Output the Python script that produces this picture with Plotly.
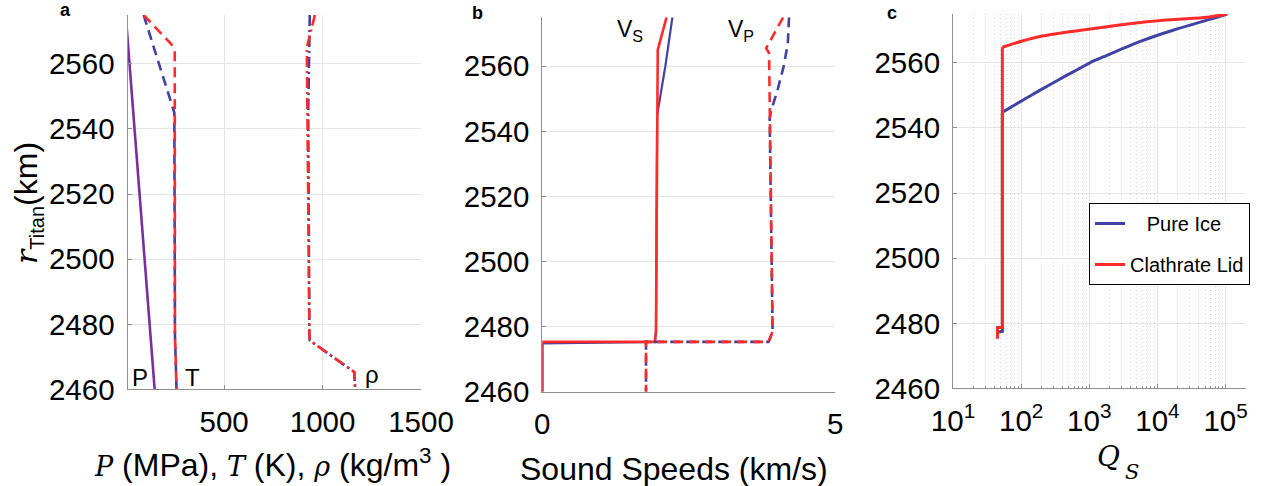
import plotly.graph_objects as go

BLUE = "#4141a6"
RED = "#ff2b2b"
PURPLE = "#7a2fa0"
AX = "#8f8f8f"
GRID = "#e6e6e6"
SANS = "Liberation Sans"
SERIF = "DejaVu Serif"

# ---------------- Panel a: P, T, rho vs radius ----------------
r_P = [2575, 2460]
P_val = [0, 147]
r_T_ice = [2575, 2545, 2477, 2460]
T_ice = [91, 247, 250, 258]
r_T_clath = [2575, 2566, 2564, 2477, 2460]
T_clath = [91, 232, 249, 250, 258]
r_rho_ice = [2575, 2545, 2477, 2475, 2465.3, 2460]
rho_ice = [935, 927, 933, 935, 1161, 1166]
r_rho_clath = [2575, 2565, 2477, 2475, 2465.3, 2460]
rho_clath = [961, 920, 933, 935, 1161, 1166]

# ---------------- Panel b: sound speeds ----------------
r_vs_ice = [2575, 2560, 2545, 2478.4, 2475.3, 2474.8, 2460]
vs_ice = [2.22, 2.10, 1.96, 1.94, 1.92, 0, 0]
r_vs_clath = [2575, 2565, 2478.4, 2475.3, 2475.3, 2460]
vs_clath = [2.12, 1.97, 1.94, 1.92, 0, 0]
r_vp_ice = [2575, 2567, 2560, 2553, 2546, 2544, 2478.4, 2475.3, 2475.3, 2460]
vp_ice = [4.21, 4.19, 4.12, 4.02, 3.90, 3.88, 3.93, 3.86, 1.77, 1.77]
r_vp_clath = [2575, 2565.5, 2564, 2478.4, 2475.3, 2475.3, 2460]
vp_clath = [4.11, 3.82, 3.87, 3.93, 3.86, 1.77, 1.77]

# ---------------- Panel c: Q_S ----------------
# attenuation curve in the conductive lid (top -> base of lid)
r_q_ice_lid = [2575, 2573.1, 2570.1, 2566.6, 2562.3, 2560.0, 2557.3, 2554.5, 2551.6,
               2548.6, 2544.8]
q_ice_lid = [105900, 53700, 17400, 5620, 1820, 1020, 589, 335, 190, 107, 53]
# convective part below the lid
r_q_ice_conv = [2544.8, 2477.5, 2477.3, 2475.3]
q_ice_conv = [53, 53, 45, 45]
r_q_clath_lid = [2575, 2574.0, 2573.3, 2572.4, 2571.1, 2569.7, 2568.1, 2566.8, 2564.8]
q_clath_lid = [105900, 53700, 17400, 5620, 1820, 589, 190, 107, 53]
r_q_clath_conv = [2564.8, 2478.7, 2478.7, 2475.3]
q_clath_conv = [53, 53, 45, 45]

y_ticks = [2460, 2480, 2500, 2520, 2540, 2560]
q_ticks = [10, 100, 1000, 10000, 100000]
q_ticktext = ["10<sup>1</sup>", "10<sup>2</sup>", "10<sup>3</sup>", "10<sup>4</sup>", "10<sup>5</sup>"]
q_minor = [m * 10 ** e for e in range(1, 5) for m in range(2, 10)] + [200000]

fig = go.Figure()

def line(x, y, color, dash, xa, ya, name=None, show=False, width=2.6, group=None,
         shape="linear"):
    ln = dict(color=color, dash=dash, width=width, shape=shape)
    if shape == "spline":
        ln["smoothing"] = 0.8
    fig.add_trace(go.Scatter(x=x, y=y, mode="lines", xaxis=xa, yaxis=ya, line=ln,
                             name=name, showlegend=show, legendgroup=group,
                             hoverinfo="skip"))

DASH = "10px,6px"
DASHDOT = "11px,4px,2px,4px"

# panel a
line(P_val, r_P, PURPLE, "solid", "x", "y")
line(T_ice, r_T_ice, BLUE, DASH, "x", "y")
line(T_clath, r_T_clath, RED, DASH, "x", "y")
line(rho_ice, r_rho_ice, BLUE, DASHDOT, "x", "y")
line(rho_clath, r_rho_clath, RED, DASHDOT, "x", "y")
# panel b
line(vs_ice, r_vs_ice, BLUE, "solid", "x2", "y2", width=2.2)
line(vs_clath, r_vs_clath, RED, "solid", "x2", "y2", width=2.6)
line(vp_ice, r_vp_ice, BLUE, DASH, "x2", "y2")
line(vp_clath, r_vp_clath, RED, DASH, "x2", "y2")
# panel c
line(q_ice_conv, r_q_ice_conv, BLUE, "solid", "x3", "y3", name="\u00a0\u00a0\u00a0Pure Ice",
     show=True, width=3, group="g1")
line(q_ice_lid, r_q_ice_lid, BLUE, "solid", "x3", "y3", width=3, group="g1", shape="spline")
line(q_clath_conv, r_q_clath_conv, RED, "solid", "x3", "y3", name="Clathrate Lid",
     show=True, width=3, group="g2")
line(q_clath_lid, r_q_clath_lid, RED, "solid", "x3", "y3", width=3, group="g2", shape="spline")

W, H = 1266, 486
def dom(a, b):
    return [a / W, b / W]

def ydom(top, bottom):
    return [1 - bottom / H, 1 - top / H]

common = dict(showline=True, linecolor=AX, linewidth=1, ticks="inside", ticklen=4,
              tickcolor=AX, showgrid=True, gridcolor=GRID, gridwidth=1, zeroline=False,
              tickfont=dict(family=SANS, size=29.5, color="black"), mirror=False,
              automargin=False)

fig.update_layout(
    template="none",
    width=W, height=H, margin=dict(l=0, r=0, t=0, b=0, pad=0, autoexpand=False),
    paper_bgcolor="white", plot_bgcolor="white",
    font=dict(family=SANS, color="black"),
    xaxis=dict(domain=dom(127.5, 421), range=[9, 1500], tickvals=[500, 1000, 1500],
               anchor="y", ticklabelstandoff=6, **common),
    yaxis=dict(domain=ydom(15, 389.3), range=[2460, 2575], tickvals=y_ticks, anchor="x",
               ticklabelstandoff=6, **common),
    xaxis2=dict(domain=dom(542.3, 835.3), range=[0, 5], tickvals=[0, 5], anchor="y2",
                ticklabelstandoff=6, **common),
    yaxis2=dict(domain=ydom(17.3, 391.7), range=[2460, 2575], tickvals=y_ticks, anchor="x2",
                ticklabelstandoff=6, **common),
    xaxis3=dict(domain=dom(953, 1246), type="log", range=[1, 5.3], tickvals=q_ticks,
                ticktext=q_ticktext, anchor="y3", ticklabelstandoff=6,
                minor=dict(tickvals=q_minor, showgrid=True, griddash="1px,3px",
                           gridcolor="#d6d6d6", gridwidth=1, ticks="inside", ticklen=2,
                           tickcolor=AX),
                **common),
    yaxis3=dict(domain=ydom(14, 388.3), range=[2460, 2575], tickvals=y_ticks, anchor="x3",
                ticklabelstandoff=6, **common),
    legend=dict(x=1089 / W, y=1 - 203 / H, xanchor="left", yanchor="top",
                bordercolor="black", borderwidth=1, bgcolor="white",
                font=dict(family=SANS, size=20, color="black"),
                tracegroupgap=12, traceorder="grouped"),
)

def ann(text, x, y, size, xanchor="center", yanchor="middle", angle=0, bold=False, family=SANS):
    if bold:
        text = "<b>" + text + "</b>"
    fig.add_annotation(text=text, x=x / W, y=1 - y / H, xref="paper", yref="paper",
                       showarrow=False, xanchor=xanchor, yanchor=yanchor, textangle=angle,
                       font=dict(family=family, size=size, color="black"))

def serif_i(t, size):
    return f'<span style="font-family:\'{SERIF}\',serif;font-size:{size}px"><i>{t}</i></span>'

# panel letters
ann("a", 65, 10, 18, bold=True)
ann("b", 478, 13, 18, bold=True)
ann("c", 892, 13, 18, bold=True)

# in-plot labels
ann("P", 140, 377, 24)
ann("T", 192, 377, 24)
ann("ρ", 372, 374, 24)
ann("V<sub>S</sub>", 630, 30, 23)
ann("V<sub>P</sub>", 741, 30, 23)

# axis titles
ann(serif_i("P", 27) + " (MPa), " + serif_i("T", 27) + " (K), " + serif_i("ρ", 27)
    + " (kg/m<sup>3</sup> )", 272, 463, 32)
ann("Sound Speeds (km/s)", 674, 469, 32)
ann("<i>Q</i>", 1108, 456, 28, family=SERIF)
ann("<i>S</i>", 1132, 472, 21, family=SERIF)
ann(serif_i("r", 30) + '<sub><span style="font-size:20px">Titan</span></sub>(km)',
    28, 203, 32, angle=-90)

fig.write_html("out.html")
